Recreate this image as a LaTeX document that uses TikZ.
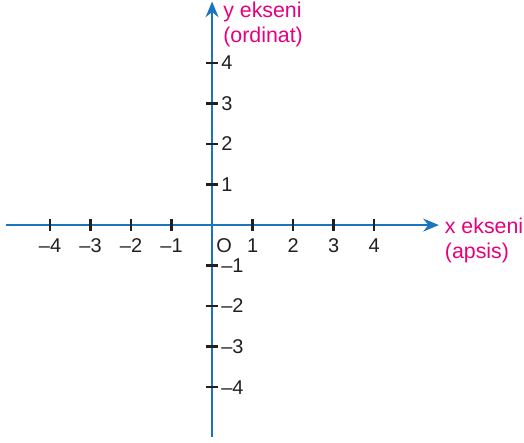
\documentclass[tikz,border=0pt]{standalone}
\usepackage{fontspec}
\setmainfont{Liberation Sans}
\usetikzlibrary{arrows.meta}
\definecolor{axisblue}{RGB}{27,117,188}
\definecolor{labelpink}{RGB}{230,0,126}
\definecolor{tickgray}{RGB}{35,31,32}

\begin{document}
\begin{tikzpicture}[
  font=\fontsize{14}{17}\selectfont,
  axis/.style={axisblue,line width=1.8pt,-{Stealth[length=11pt,width=9pt]}},
  tickmark/.style={tickgray,line width=1.7pt},
  ticklabel/.style={text=tickgray,inner sep=0pt},
  axisname/.style={text=labelpink,align=left,inner sep=0pt,anchor=north west,
    font=\fontsize{15}{17.6}\selectfont}
]
  \useasboundingbox (-5.235,-5.358) rectangle (7.70,5.556);

  \coordinate (xstart) at (-5.09,0);
  \coordinate (xend) at (5.6,0);
  \coordinate (ystart) at (0,-5.23);
  \coordinate (yend) at (0,5.52);

  \draw[axis] (xstart) -- (xend);
  \draw[axis] (ystart) -- (yend);

  % ticks and numbers on both axes
  \foreach \i/\t in {-4/--4,-3/--3,-2/--2,-1/--1,1/1,2/2,3/3,4/4} {
    \coordinate (xt\i) at (\i,0);
    \coordinate (yt\i) at (0,\i);
    \draw[tickmark] ([yshift=-0.14cm]xt\i) -- ([yshift=0.14cm]xt\i);
    \draw[tickmark] ([xshift=-0.14cm]yt\i) -- ([xshift=0.14cm]yt\i);
    \node[ticklabel,anchor=base] (xl\i) at (\i,-0.67) {\t};
    \node[ticklabel,anchor=base west] (yl\i) at (0.22,\i-0.17) {\t};
  }
  \node[ticklabel,anchor=base] (origin) at (0.30,-0.67) {O};

  \node[axisname] (xname) at (5.74,0.19) {x ekseni\\(apsis)};
  \node[axisname] (yname) at (0.27,5.52) {y ekseni\\(ordinat)};
\end{tikzpicture}
\end{document}
